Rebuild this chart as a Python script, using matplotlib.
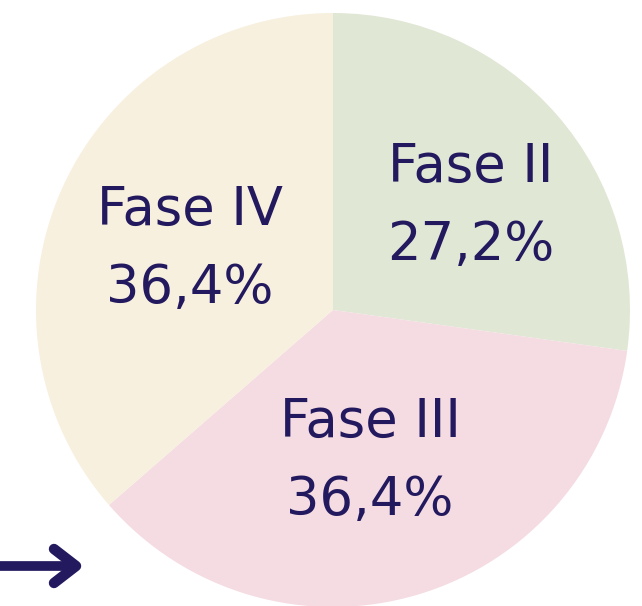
import numpy as np
import matplotlib
matplotlib.use("Agg")
import matplotlib.pyplot as plt

phases = ["Fase II", "Fase III", "Fase IV"]
shares = [27.2, 36.4, 36.4]
pct_labels = ["27,2%", "36,4%", "36,4%"]
colors = ["#E1E7D5", "#F4DCE2", "#F7F0DF"]

ink = "#23195E"
W, H = 642, 606
fig = plt.figure(figsize=(W / 100, H / 100), dpi=100)
ax = fig.add_axes([0, 0, 1, 1])

cx, cy, R = 333, H - 310, 297
wedges, _ = ax.pie(shares, colors=colors, startangle=90, counterclock=False,
                   center=(cx, cy), radius=R, frame=True,
                   wedgeprops=dict(linewidth=0))
ax.set_xlim(0, W)
ax.set_ylim(0, H)
ax.set_aspect("equal")
ax.axis("off")

# label anchors (pixel coords from top-left): horizontal centre, baseline of first line
anchors = [(471, 182), (370, 437), (190, 225)]
line_gap = 78
for (x, yb), name, pct in zip(anchors, phases, pct_labels):
    y = H - yb
    ax.text(x, y, name, ha="center", va="baseline", fontsize=38,
            color=ink, family="DejaVu Sans")
    ax.text(x, y - line_gap, pct, ha="center", va="baseline", fontsize=38,
            color=ink, family="DejaVu Sans")

# arrow in the lower-left corner
ay = H - 566
ax.plot([0, 74], [ay, ay], color=ink, lw=7, solid_capstyle="butt")
ax.plot([54, 76, 54], [ay + 17, ay, ay - 17], color=ink, lw=7.5,
        solid_capstyle="round", solid_joinstyle="round")

fig.savefig("out.png", dpi=100, facecolor="white")
